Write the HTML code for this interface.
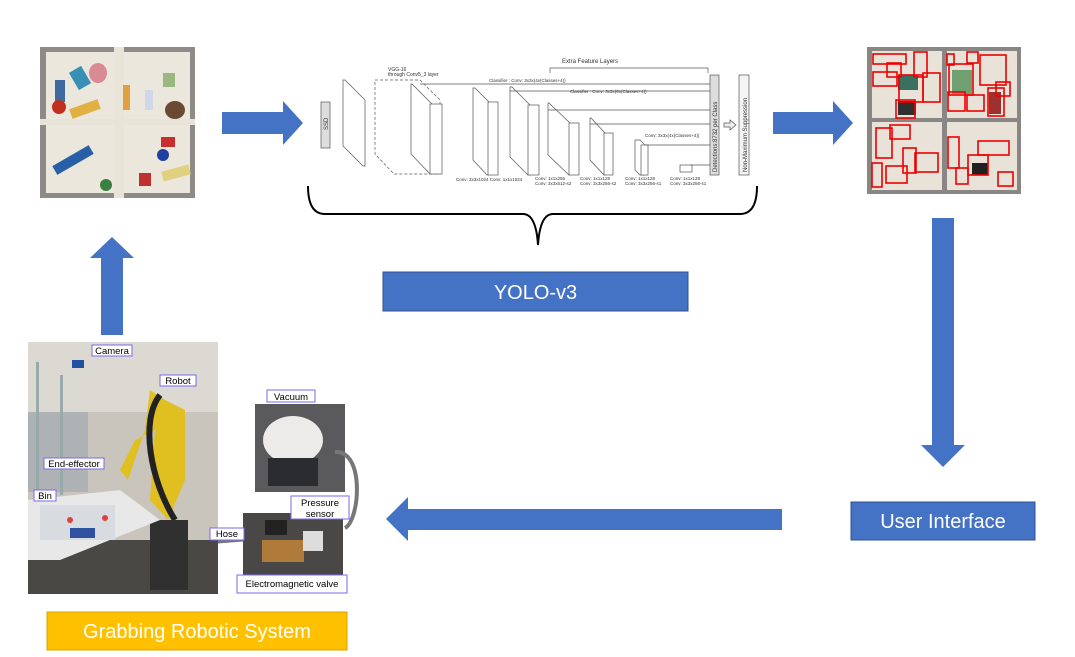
<!DOCTYPE html>
<html><head><meta charset="utf-8"><style>
html,body{margin:0;padding:0;background:#fff;}
svg{display:block;font-family:"Liberation Sans",sans-serif;}
</style></head><body>
<svg width="1075" height="657" viewBox="0 0 1075 657" xmlns="http://www.w3.org/2000/svg">
<rect width="1075" height="657" fill="#fff"/>
<!-- top-left bins photo -->
<g>
<rect x="40" y="47" width="155" height="151" fill="#8e8a88"/>
<rect x="46" y="52" width="68" height="67" fill="#ece7dd"/>
<rect x="124" y="52" width="66" height="67" fill="#ece7dd"/>
<rect x="46" y="125" width="68" height="68" fill="#ece7dd"/>
<rect x="124" y="125" width="66" height="68" fill="#ece7dd"/>
<rect x="40" y="119" width="155" height="6" fill="#e9e4d8"/>
<rect x="114" y="47" width="10" height="151" fill="#e9e4d8"/>
<ellipse cx="98" cy="73" rx="9" ry="10" fill="#d98a92"/>
<rect x="73" y="68" width="14" height="20" fill="#3a8fb4" transform="rotate(-30 80 78)"/>
<rect x="55" y="80" width="10" height="22" fill="#3d6aa0"/>
<circle cx="59" cy="107" r="7" fill="#c03020"/>
<rect x="70" y="104" width="30" height="10" fill="#e0b040" transform="rotate(-20 85 109)"/>
<rect x="123" y="85" width="7" height="25" fill="#e0a040"/>
<rect x="145" y="90" width="8" height="20" fill="#d0d8e8"/>
<ellipse cx="175" cy="110" rx="10" ry="9" fill="#6a4a30"/>
<rect x="163" y="73" width="12" height="14" fill="#9ab880"/>
<rect x="52" y="155" width="42" height="10" fill="#2860a8" transform="rotate(-30 73 160)"/>
<circle cx="106" cy="185" r="6" fill="#3a8040"/>
<rect x="161" y="137" width="14" height="10" fill="#c83030"/>
<circle cx="163" cy="155" r="6" fill="#2040a0"/>
<rect x="162" y="168" width="28" height="10" fill="#e0d080" transform="rotate(-15 176 173)"/>
<rect x="139" y="173" width="12" height="13" fill="#c03030"/>
</g>
<!-- arrows -->
<polygon points="222,112 283,112 283,101 303,123 283,145 283,134 222,134" fill="#4472C4"/>
<polygon points="773,112 833,112 833,101 853,123 833,145 833,134 773,134" fill="#4472C4"/>
<polygon points="932,218 954,218 954,445 965,445 943,467 921,445 932,445" fill="#4472C4"/>
<polygon points="782,509 782,530 408,530 408,541 386,519 408,497 408,509" fill="#4472C4"/>
<polygon points="101,335 123,335 123,258 134,258 112,237 90,258 101,258" fill="#4472C4"/>
<!-- SSD diagram -->
<g stroke="#555" stroke-width="0.7" fill="#fff" font-size="4.5">
<rect x="321" y="102" width="9" height="46" fill="#ddd"/>
<text x="328" y="130" transform="rotate(-90 328 130)" fill="#333" stroke="none" font-size="6">SSD</text>
<polygon points="343,80 345,80 365,100 365,166 363,166 343,146" fill="#fff"/>
<polygon points="375,80 420,80 440,100 440,174 394,174 375,154" fill="none" stroke-dasharray="3,2"/>
<polygon points="411,84 412,84 432,104 432,174 430,174 411,154"/>
<rect x="430" y="104" width="12" height="70"/>
<polygon points="473,88 475,88 489,102 489,175 487,175 473,160"/>
<rect x="488" y="102" width="10" height="73"/>
<polygon points="510,87 512,87 530,105 530,175 528,175 510,157"/>
<rect x="528" y="105" width="11" height="70"/>
<polygon points="548,103 549,103 570,123 570,175 569,175 548,155"/>
<rect x="569" y="123" width="10" height="52"/>
<polygon points="590,118 591,118 605,133 605,175 604,175 590,160"/>
<rect x="604" y="133" width="9" height="42"/>
<polygon points="635,140 640,140 645,145 645,175 640,175 635,170"/>
<rect x="641" y="145" width="7" height="30"/>
<rect x="680" y="165" width="12" height="7"/>
<rect x="710" y="75" width="9" height="100" fill="#ddd"/>
<rect x="739" y="75" width="10" height="100" fill="#f4f4f4"/>
<line x1="420" y1="84" x2="710" y2="84"/><line x1="510" y1="91" x2="710" y2="91"/>
<line x1="548" y1="110" x2="710" y2="110"/><line x1="590" y1="124" x2="710" y2="124"/>
<line x1="645" y1="145" x2="710" y2="145"/><line x1="690" y1="165" x2="710" y2="165"/>
<line x1="550" y1="68" x2="708" y2="68"/><line x1="550" y1="68" x2="550" y2="73"/><line x1="708" y1="68" x2="708" y2="73"/>
<polygon points="724,123 730,123 730,120 736,125 730,130 730,127 724,127" fill="#eee"/>
</g>
<g fill="#333" font-size="5">
<text x="562" y="63" font-size="6">Extra Feature Layers</text>
<text x="388" y="71">VGG-16</text><text x="388" y="76">through Conv5_3 layer</text>
<text x="489" y="82" font-size="4.5">Classifier : Conv: 3x3x(4x(Classes+4))</text>
<text x="570" y="93" font-size="4.5">Classifier : Conv: 3x3x(6x(Classes+4))</text>
<text x="645" y="137" font-size="4.5">Conv: 3x3x(4x(Classes+4))</text>
<text x="456" y="181" font-size="4.5">Conv: 3x3x1024 Conv: 1x1x1024</text>
<text x="535" y="180" font-size="4.5">Conv: 1x1x256</text><text x="535" y="185" font-size="4.5">Conv: 3x3x512-s2</text>
<text x="580" y="180" font-size="4.5">Conv: 1x1x128</text><text x="580" y="185" font-size="4.5">Conv: 3x3x256-s2</text>
<text x="625" y="180" font-size="4.5">Conv: 1x1x128</text><text x="625" y="185" font-size="4.5">Conv: 3x3x256-s1</text>
<text x="670" y="180" font-size="4.5">Conv: 1x1x128</text><text x="670" y="185" font-size="4.5">Conv: 3x3x256-s1</text>
<text x="717" y="172" transform="rotate(-90 717 172)" font-size="6">Detections:8732  per Class</text>
<text x="747" y="172" transform="rotate(-90 747 172)" font-size="6">Non-Maximum Suppression</text>
</g>
<!-- brace -->
<path d="M308,186 Q308,214 325,214 L523,214 Q536,214 538,245 Q540,214 553,214 L740,214 Q757,214 757,186" fill="none" stroke="#000" stroke-width="2"/>
<!-- YOLO box -->
<rect x="383" y="272" width="305" height="39" fill="#4472C4" stroke="#2F528F" stroke-width="1"/>
<text x="535.5" y="299" text-anchor="middle" fill="#fff" font-size="20">YOLO-v3</text>
<!-- top-right detection photo -->
<g>
<rect x="867" y="47" width="154" height="147" fill="#8a8683"/>
<rect x="872" y="51" width="70" height="67" fill="#e8e2d8"/>
<rect x="947" y="51" width="70" height="67" fill="#e8e2d8"/>
<rect x="872" y="122" width="70" height="68" fill="#e8e2d8"/>
<rect x="947" y="122" width="70" height="68" fill="#e8e2d8"/>
<rect x="898" y="75" width="20" height="15" fill="#3a7060"/>
<rect x="898" y="101" width="18" height="14" fill="#303030"/>
<rect x="952" y="70" width="20" height="24" fill="#70a070"/>
<rect x="972" y="163" width="16" height="12" fill="#202020"/>
<rect x="989" y="92" width="12" height="22" fill="#a03030"/>
<g fill="none" stroke="#e00" stroke-width="1.6">
<rect x="873" y="54" width="33" height="10"/><rect x="914" y="52" width="13" height="25"/>
<rect x="887" y="63" width="14" height="14"/><rect x="873" y="72" width="24" height="14"/>
<rect x="899" y="75" width="24" height="27"/><rect x="923" y="73" width="17" height="29"/>
<rect x="896" y="100" width="19" height="18"/>
<rect x="947" y="54" width="7" height="11"/><rect x="967" y="52" width="11" height="11"/>
<rect x="949" y="64" width="24" height="31"/><rect x="980" y="55" width="26" height="30"/>
<rect x="996" y="82" width="14" height="14"/><rect x="988" y="88" width="16" height="28"/>
<rect x="948" y="92" width="17" height="19"/><rect x="967" y="95" width="17" height="16"/>
<rect x="876" y="128" width="16" height="30"/><rect x="890" y="125" width="20" height="14"/>
<rect x="903" y="148" width="13" height="25"/><rect x="915" y="153" width="23" height="19"/>
<rect x="872" y="163" width="10" height="24"/><rect x="886" y="166" width="21" height="17"/>
<rect x="948" y="137" width="11" height="31"/><rect x="968" y="155" width="20" height="20"/>
<rect x="978" y="141" width="31" height="14"/><rect x="956" y="168" width="12" height="16"/>
<rect x="998" y="172" width="15" height="14"/>
</g>
</g>
<!-- User Interface -->
<rect x="851" y="502" width="184" height="38" fill="#4472C4" stroke="#2F528F" stroke-width="1"/>
<text x="943" y="528" text-anchor="middle" fill="#fff" font-size="20">User Interface</text>
<!-- robot photo -->
<g>
<rect x="28" y="342" width="190" height="252" fill="#c9c4bc"/>
<rect x="28" y="342" width="190" height="70" fill="#dcd8d2"/>
<rect x="28" y="412" width="60" height="80" fill="#aeb2b4"/>
<rect x="28" y="540" width="190" height="54" fill="#4a4844"/>
<rect x="36" y="362" width="3" height="140" fill="#9aa"/><rect x="60" y="375" width="3" height="120" fill="#9aa"/>
<rect x="72" y="360" width="12" height="8" fill="#2050a0"/>
<path d="M150,390 L165,400 L185,410 L185,480 L168,520 L150,500 L155,430 L135,440 L120,470 L128,480 L145,430 Z" fill="#e0c020"/>
<path d="M160,395 C140,420 150,480 175,520" stroke="#222" stroke-width="6" fill="none"/>
<rect x="150" y="520" width="38" height="70" fill="#303030"/>
<polygon points="28,500 120,490 160,520 60,560 28,560" fill="#e8e8e8"/>
<rect x="40" y="505" width="75" height="35" fill="#d8dce0"/>
<circle cx="70" cy="520" r="3" fill="#e04040"/><circle cx="105" cy="518" r="3" fill="#e04040"/>
<rect x="70" y="528" width="25" height="10" fill="#3050a0"/>
</g>
<!-- vacuum photo -->
<rect x="255" y="404" width="90" height="88" fill="#5a5a5c"/>
<ellipse cx="293" cy="440" rx="30" ry="24" fill="#ecebea"/>
<rect x="268" y="458" width="50" height="28" fill="#2a2c30"/>
<path d="M335,452 C365,450 360,520 345,528" stroke="#777" stroke-width="4" fill="none"/>
<!-- valve photo -->
<rect x="243" y="513" width="100" height="62" fill="#4a4846"/>
<rect x="265" y="520" width="22" height="15" fill="#222"/>
<rect x="262" y="540" width="42" height="22" fill="#b07a3a"/>
<rect x="303" y="531" width="20" height="20" fill="#ddd"/>
<path d="M218,542 L243,540" stroke="#777" stroke-width="3"/>
<!-- labels -->
<g font-size="9.5" fill="#000">
<rect x="92" y="345" width="40" height="11" fill="#fff" stroke="#7b68ee"/><text x="112" y="354" text-anchor="middle">Camera</text>
<rect x="160" y="375" width="36" height="11" fill="#fff" stroke="#7b68ee"/><text x="178" y="384" text-anchor="middle">Robot</text>
<rect x="44" y="458" width="60" height="11" fill="#fff" stroke="#7b68ee"/><text x="74" y="467" text-anchor="middle">End-effector</text>
<rect x="34" y="490" width="22" height="11" fill="#fff" stroke="#7b68ee"/><text x="45" y="499" text-anchor="middle">Bin</text>
<rect x="267" y="390" width="48" height="12" fill="#fff" stroke="#7b68ee"/><text x="291" y="400" text-anchor="middle">Vacuum</text>
<rect x="291" y="496" width="58" height="23" fill="#fff" stroke="#7b68ee"/><text x="320" y="506" text-anchor="middle">Pressure</text><text x="320" y="517" text-anchor="middle">sensor</text>
<rect x="210" y="528" width="34" height="12" fill="#fff" stroke="#7b68ee"/><text x="227" y="537" text-anchor="middle">Hose</text>
<rect x="237" y="575" width="110" height="18" fill="#fff" stroke="#7b68ee"/><text x="292" y="587" text-anchor="middle">Electromagnetic valve</text>
</g>
<!-- Grabbing box -->
<rect x="47" y="612" width="300" height="38" fill="#FFC000" stroke="#D9A300" stroke-width="1"/>
<text x="197" y="638" text-anchor="middle" fill="#fff" font-size="20">Grabbing Robotic System</text>
</svg>
</body></html>
